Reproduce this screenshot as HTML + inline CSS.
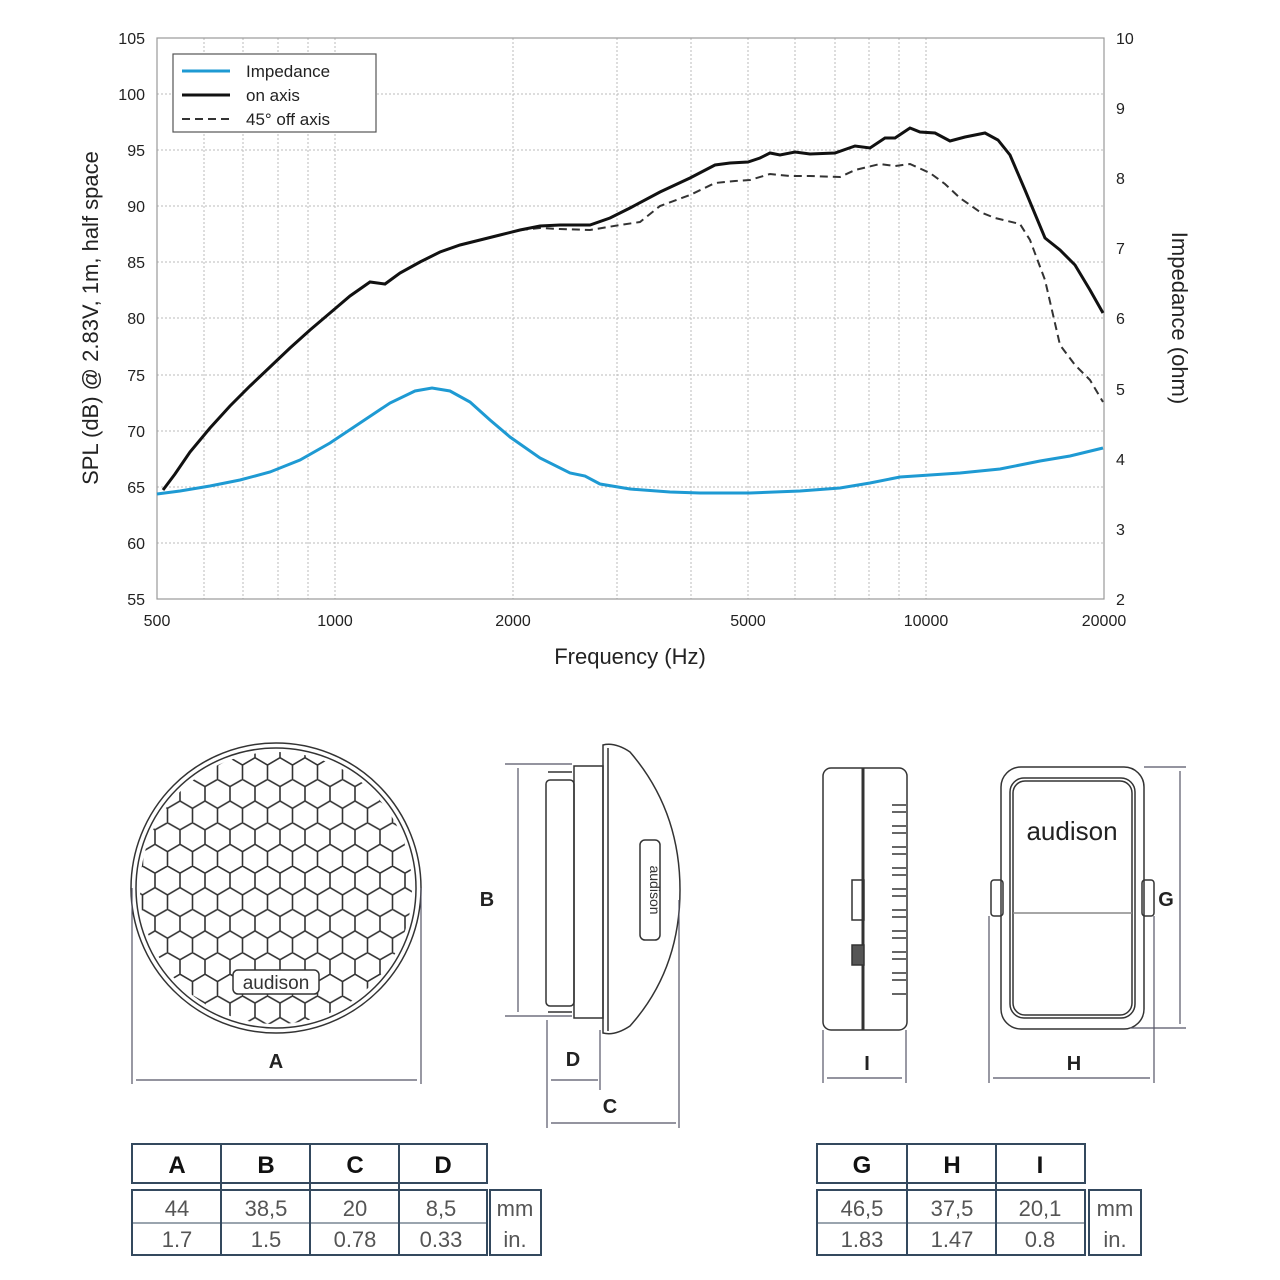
<!DOCTYPE html>
<html><head><meta charset="utf-8"><style>
html,body{margin:0;padding:0;background:#fff;}
svg{display:block;}
text{font-family:"Liberation Sans",Arial,sans-serif;}
</style></head><body>
<svg width="1280" height="1280" viewBox="0 0 1280 1280" xmlns="http://www.w3.org/2000/svg">
<defs>
<pattern id="hex" width="25" height="43.3" patternUnits="userSpaceOnUse" x="5" y="0">
<path d="M12.5,0 L25,7.2 L25,21.6 L12.5,28.9 L0,21.6 L0,7.2 Z M12.5,28.9 L12.5,43.3" fill="none" stroke="#333" stroke-width="1.6"/>
</pattern>
<clipPath id="cc"><circle cx="276" cy="888" r="136"/></clipPath>
</defs>
<!-- grid -->
<g stroke="#bbb" stroke-width="1" stroke-dasharray="2,2">
<line x1="204" y1="38" x2="204" y2="599"/><line x1="243" y1="38" x2="243" y2="599"/>
<line x1="278" y1="38" x2="278" y2="599"/><line x1="308" y1="38" x2="308" y2="599"/>
<line x1="335" y1="38" x2="335" y2="599"/><line x1="513" y1="38" x2="513" y2="599"/>
<line x1="617" y1="38" x2="617" y2="599"/><line x1="691" y1="38" x2="691" y2="599"/>
<line x1="748" y1="38" x2="748" y2="599"/><line x1="795" y1="38" x2="795" y2="599"/>
<line x1="835" y1="38" x2="835" y2="599"/><line x1="869" y1="38" x2="869" y2="599"/>
<line x1="899" y1="38" x2="899" y2="599"/><line x1="926" y1="38" x2="926" y2="599"/>
<line x1="157" y1="94" x2="1104" y2="94"/><line x1="157" y1="150" x2="1104" y2="150"/>
<line x1="157" y1="206" x2="1104" y2="206"/><line x1="157" y1="262" x2="1104" y2="262"/>
<line x1="157" y1="318" x2="1104" y2="318"/><line x1="157" y1="375" x2="1104" y2="375"/>
<line x1="157" y1="431" x2="1104" y2="431"/><line x1="157" y1="487" x2="1104" y2="487"/>
<line x1="157" y1="543" x2="1104" y2="543"/>
</g>
<rect x="157" y="38" width="947" height="561" fill="none" stroke="#999" stroke-width="1.2"/>
<g font-size="16" fill="#222" text-anchor="end">
<text x="145" y="44">105</text><text x="145" y="100">100</text><text x="145" y="156">95</text>
<text x="145" y="212">90</text><text x="145" y="268">85</text><text x="145" y="324">80</text>
<text x="145" y="381">75</text><text x="145" y="437">70</text><text x="145" y="493">65</text>
<text x="145" y="549">60</text><text x="145" y="605">55</text>
</g>
<g font-size="16" fill="#222">
<text x="1116" y="44">10</text><text x="1116" y="114">9</text><text x="1116" y="184">8</text>
<text x="1116" y="254">7</text><text x="1116" y="324">6</text><text x="1116" y="395">5</text>
<text x="1116" y="465">4</text><text x="1116" y="535">3</text><text x="1116" y="605">2</text>
</g>
<g font-size="16" fill="#222" text-anchor="middle">
<text x="157" y="626">500</text><text x="335" y="626">1000</text><text x="513" y="626">2000</text>
<text x="748" y="626">5000</text><text x="926" y="626">10000</text><text x="1104" y="626">20000</text>
</g>
<text x="630" y="664" font-size="22" fill="#222" text-anchor="middle">Frequency (Hz)</text>
<text transform="translate(98,318) rotate(-90)" font-size="22" fill="#222" text-anchor="middle">SPL (dB) @ 2.83V, 1m, half space</text>
<text transform="translate(1172,318) rotate(90)" font-size="22" fill="#222" text-anchor="middle">Impedance (ohm)</text>
<!-- curves -->
<polyline fill="none" stroke="#1e9ad3" stroke-width="3" points="157,494 180,491 210,486 240,480 270,472 300,460 330,443 360,423 390,403 415,391 432,388 450,391 470,402 490,420 510,437 540,458 570,473 585,476 600,484 630,489 670,492 700,493 750,493 800,491 840,488 870,483 900,477 930,475 960,473 1000,469 1040,461 1070,456 1103,448"/>
<polyline fill="none" stroke="#333" stroke-width="2" stroke-dasharray="8,5" points="520,230 540,228 560,229 590,230 620,225 640,222 660,206 690,195 715,183 735,181 750,180 770,174 790,176 810,176 840,177 855,170 880,164 895,166 910,164 930,173 945,184 960,198 980,212 995,218 1020,224 1030,240 1045,280 1060,345 1075,365 1090,380 1103,402"/>
<polyline fill="none" stroke="#111" stroke-width="3" points="163,490 175,474 190,452 210,428 230,406 250,386 270,367 290,348 310,330 330,313 350,296 370,282 385,284 400,273 420,262 440,252 460,245 480,240 500,235 520,230 540,226 560,225 590,225 610,218 630,208 660,192 690,178 715,165 730,163 748,162 760,158 770,153 780,155 795,152 810,154 835,153 855,146 870,148 885,138 895,138 910,128 920,132 935,133 950,141 965,137 985,133 998,140 1010,155 1025,190 1045,238 1060,250 1075,265 1090,290 1103,313"/>
<!-- legend -->
<rect x="173" y="54" width="203" height="78" fill="#fff" stroke="#555" stroke-width="1.2"/>
<line x1="182" y1="71" x2="230" y2="71" stroke="#1e9ad3" stroke-width="3"/>
<line x1="182" y1="95" x2="230" y2="95" stroke="#111" stroke-width="3"/>
<line x1="182" y1="119" x2="230" y2="119" stroke="#333" stroke-width="2" stroke-dasharray="8,5"/>
<g font-size="17" fill="#222"><text x="246" y="77">Impedance</text><text x="246" y="101">on axis</text><text x="246" y="125">45° off axis</text></g>

<!-- front speaker -->
<g stroke="#333" fill="none" stroke-width="1.5">
<circle cx="276" cy="888" r="145"/><circle cx="276" cy="888" r="140"/>
<rect x="140" y="750" width="272" height="276" fill="url(#hex)" clip-path="url(#cc)" stroke="none"/>
<rect x="233" y="970" width="86" height="24" rx="5" fill="#fff"/>
</g>
<text x="276" y="989" font-size="19" fill="#333" text-anchor="middle">audison</text>
<g stroke="#556" stroke-width="1.2" fill="none">
<line x1="132" y1="888" x2="132" y2="1084"/><line x1="421" y1="888" x2="421" y2="1084"/>
<line x1="136" y1="1080" x2="417" y2="1080"/>
</g>
<text x="276" y="1068" font-size="20" font-weight="bold" fill="#222" text-anchor="middle">A</text>
<!-- side speaker -->
<g stroke="#333" stroke-width="1.5" fill="none">
<path d="M603,745 Q615,742 630,752 Q680,810 680,890 Q680,970 630,1026 Q615,1036 603,1033 Z" fill="#fff"/>
<line x1="608" y1="748" x2="608" y2="1031"/>
<rect x="574" y="766" width="29" height="252"/>
<rect x="546" y="780" width="28" height="226" rx="4"/>
<rect x="640" y="840" width="20" height="100" rx="5"/>
<line x1="548" y1="772" x2="572" y2="772"/><line x1="548" y1="1012" x2="572" y2="1012"/>
</g>
<text transform="translate(650,890) rotate(90)" font-size="14" fill="#333" text-anchor="middle">audison</text>
<g stroke="#556" stroke-width="1.2" fill="none">
<line x1="505" y1="764" x2="572" y2="764"/><line x1="505" y1="1016" x2="572" y2="1016"/>
<line x1="518" y1="768" x2="518" y2="1012"/>
<line x1="547" y1="1020" x2="547" y2="1128"/><line x1="600" y1="1030" x2="600" y2="1090"/>
<line x1="679" y1="900" x2="679" y2="1128"/>
<line x1="551" y1="1080" x2="598" y2="1080"/><line x1="551" y1="1123" x2="676" y2="1123"/>
</g>
<g font-size="20" font-weight="bold" fill="#222" text-anchor="middle">
<text x="487" y="906">B</text><text x="573" y="1066">D</text><text x="610" y="1113">C</text>
</g>
<!-- crossover side -->
<g stroke="#333" stroke-width="1.5" fill="none">
<rect x="823" y="768" width="84" height="262" rx="8"/>
<line x1="863" y1="768" x2="863" y2="1030" stroke-width="3"/>
<path d="M892,805 h14 M892,812 h14 M892,826 h14 M892,833 h14 M892,847 h14 M892,854 h14 M892,868 h14 M892,875 h14 M892,889 h14 M892,896 h14 M892,910 h14 M892,917 h14 M892,931 h14 M892,938 h14 M892,952 h14 M892,959 h14 M892,973 h14 M892,980 h14 M892,994 h14"/>
<rect x="852" y="880" width="12" height="40"/>
<rect x="852" y="945" width="12" height="20" fill="#555"/>
</g>
<g stroke="#556" stroke-width="1.2" fill="none">
<line x1="823" y1="1030" x2="823" y2="1083"/><line x1="906" y1="1030" x2="906" y2="1083"/>
<line x1="827" y1="1078" x2="902" y2="1078"/>
</g>
<text x="867" y="1070" font-size="20" font-weight="bold" fill="#222" text-anchor="middle">I</text>
<!-- crossover front -->
<g stroke="#333" stroke-width="1.5" fill="none">
<rect x="1001" y="767" width="143" height="262" rx="20"/>
<rect x="1010" y="778" width="125" height="240" rx="14"/>
<rect x="1013" y="781" width="119" height="234" rx="12"/>
<rect x="991" y="880" width="12" height="36" rx="3"/>
<rect x="1142" y="880" width="12" height="36" rx="3"/>
<line x1="1013" y1="913" x2="1132" y2="913" stroke="#888"/>
</g>
<text x="1072" y="840" font-size="26" fill="#222" text-anchor="middle">audison</text>
<g stroke="#556" stroke-width="1.2" fill="none">
<line x1="1144" y1="767" x2="1186" y2="767"/><line x1="1130" y1="1028" x2="1186" y2="1028"/>
<line x1="1180" y1="771" x2="1180" y2="1024"/>
<line x1="989" y1="916" x2="989" y2="1083"/><line x1="1154" y1="916" x2="1154" y2="1083"/>
<line x1="993" y1="1078" x2="1150" y2="1078"/>
</g>
<g font-size="20" font-weight="bold" fill="#222" text-anchor="middle">
<text x="1074" y="1070">H</text><text x="1166" y="906">G</text>
</g>
<!-- tables -->
<g stroke="#34495e" stroke-width="2" fill="none">
<rect x="132" y="1144" width="355" height="39"/>
<line x1="221" y1="1144" x2="221" y2="1255"/><line x1="310" y1="1144" x2="310" y2="1255"/><line x1="399" y1="1144" x2="399" y2="1255"/>
<rect x="132" y="1190" width="355" height="65"/>
<line x1="132" y1="1223" x2="487" y2="1223" stroke-width="1"/>
<rect x="490" y="1190" width="51" height="65"/>
<rect x="817" y="1144" width="268" height="39"/>
<line x1="907" y1="1144" x2="907" y2="1255"/><line x1="996" y1="1144" x2="996" y2="1255"/>
<rect x="817" y="1190" width="268" height="65"/>
<line x1="817" y1="1223" x2="1085" y2="1223" stroke-width="1"/>
<rect x="1089" y="1190" width="52" height="65"/>
</g>
<g font-size="24" font-weight="bold" fill="#111" text-anchor="middle">
<text x="177" y="1173">A</text><text x="266" y="1173">B</text><text x="355" y="1173">C</text><text x="443" y="1173">D</text>
<text x="862" y="1173">G</text><text x="952" y="1173">H</text><text x="1040" y="1173">I</text>
</g>
<g font-size="22" fill="#555" text-anchor="middle">
<text x="177" y="1216">44</text><text x="266" y="1216">38,5</text><text x="355" y="1216">20</text><text x="441" y="1216">8,5</text><text x="515" y="1216">mm</text>
<text x="177" y="1247">1.7</text><text x="266" y="1247">1.5</text><text x="355" y="1247">0.78</text><text x="441" y="1247">0.33</text><text x="515" y="1247">in.</text>
<text x="862" y="1216">46,5</text><text x="952" y="1216">37,5</text><text x="1040" y="1216">20,1</text><text x="1115" y="1216">mm</text>
<text x="862" y="1247">1.83</text><text x="952" y="1247">1.47</text><text x="1040" y="1247">0.8</text><text x="1115" y="1247">in.</text>
</g>
</svg>
</body></html>
